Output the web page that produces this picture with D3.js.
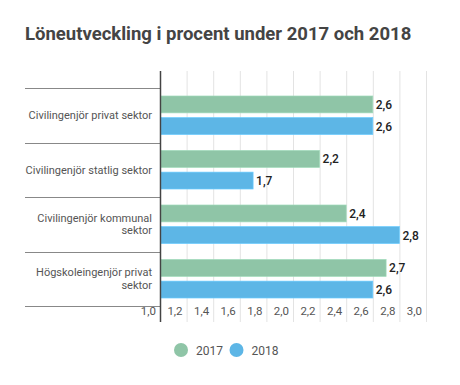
<!DOCTYPE html>
<html>
<head>
<meta charset="utf-8">
<script src="https://cdn.jsdelivr.net/npm/d3@7"></script>
<style>
  body { margin: 0; background: #fff; font-family: Roboto, "Noto Sans", sans-serif; }
</style>
</head>
<body>
<div id="chart"></div>
<script>
// chart data
var categories = [
    ["Civilingenjör privat sektor"],
    ["Civilingenjör statlig sektor"],
    ["Civilingenjör kommunal", "sektor"],
    ["Högskoleingenjör privat", "sektor"]
];
var seriesNames = ["2017", "2018"];
var values2017 = [2.6, 2.2, 2.4, 2.7];
var values2018 = [2.6, 1.7, 2.8, 2.6];
var tickValues = [1.0, 1.2, 1.4, 1.6, 1.8, 2.0, 2.2, 2.4, 2.6, 2.8, 3.0];
var colors = ["#8fc5a7", "#5db6e6"];

var width = 460, height = 385;
var plotTop = 71, plotBottom = 322;
var bandTop = 88, bandBottom = 306;

var svg = d3.select("#chart").append("svg")
    .attr("width", width)
    .attr("height", height);

//title
svg.append("text")
    .attr("x", 25)
    .attr("y", 40)
    .style("font-size", "18.5px")
    .style("font-weight", "bold")
    .style("fill", "#444")
    .text("Löneutveckling i procent under 2017 och 2018");

var x = d3.scaleLinear().domain([1.0, 3.0]).range([160, 426]);
var y = d3.scaleBand().domain(d3.range(categories.length)).range([bandTop, bandBottom]);
var inner = d3.scaleBand().domain([0, 1]).range([8, y.bandwidth() - 8]).paddingInner(0.22);

//gridlines
svg.append("g").selectAll("line")
    .data(tickValues.slice(1))
    .enter().append("line")
    .attr("x1", function(d) { return x(d) + 0.5; })
    .attr("x2", function(d) { return x(d) + 0.5; })
    .attr("y1", plotTop)
    .attr("y2", plotBottom)
    .style("stroke", "#e3e3e3")
    .style("stroke-width", 1);

//tick labels, right aligned to the left of each line
svg.append("g").selectAll("text")
    .data(tickValues)
    .enter().append("text")
    .attr("x", function(d) { return x(d) - 4; })
    .attr("y", 315)
    .style("text-anchor", "end")
    .style("font-size", "11.5px")
    .style("fill", "#555")
    .text(function(d) { return d3.format(".1f")(d).replace(".", ","); });

//category separators
svg.append("g").selectAll("line")
    .data(d3.range(categories.length + 1))
    .enter().append("line")
    .attr("x1", 25)
    .attr("x2", 160)
    .attr("y1", function(i) { return Math.round(bandTop + i * y.step()) + 0.5; })
    .attr("y2", function(i) { return Math.round(bandTop + i * y.step()) + 0.5; })
    .style("stroke", "#888")
    .style("stroke-width", 1);

//category labels
var labels = svg.append("g").selectAll("text")
    .data(categories)
    .enter().append("text")
    .attr("y", function(d, i) { return y(i) + y.bandwidth() / 2 - (d.length - 1) * 6.5 + 4; })
    .style("text-anchor", "end")
    .style("font-size", "11px")
    .style("fill", "#555");
labels.selectAll("tspan")
    .data(function(d) { return d; })
    .enter().append("tspan")
    .attr("x", 152)
    .attr("dy", function(d, j) { return j ? 12.5 : 0; })
    .text(function(d) { return d; });

//bars
var series = [values2017, values2018];
series.forEach(function(vals, s) {
    var g = svg.append("g");
    g.selectAll("rect")
        .data(vals)
        .enter().append("rect")
        .attr("x", x(1.0) + 1)
        .attr("y", function(d, i) { return y(i) + inner(s); })
        .attr("width", function(d) { return x(d) - x(1.0) - 1; })
        .attr("height", inner.bandwidth())
        .style("fill", colors[s])
        .style("stroke", d3.color(colors[s]).brighter(0.3))
        .style("stroke-width", 0.7);
    g.selectAll("text")
        .data(vals)
        .enter().append("text")
        .attr("x", function(d) { return x(d) + 3; })
        .attr("y", function(d, i) { return y(i) + inner(s) + inner.bandwidth() / 2 + 4.5; })
        .style("font-size", "12px")
        .style("font-weight", "500")
        .style("fill", "#222")
        .text(function(d) { return d3.format(".1f")(d).replace(".", ","); });
});

//axis line
svg.append("line")
    .attr("x1", 160.5).attr("x2", 160.5)
    .attr("y1", plotTop).attr("y2", plotBottom)
    .style("stroke", "#444")
    .style("stroke-width", 1.5);

//legend
var legend = svg.append("g").selectAll("g")
    .data(seriesNames)
    .enter().append("g")
    .attr("transform", function(d, i) { return "translate(" + (181 + i * 55.5) + ",350)"; });
legend.append("circle")
    .attr("r", 7)
    .style("fill", function(d, i) { return colors[i]; });
legend.append("text")
    .attr("x", 15)
    .attr("y", 4.5)
    .style("font-size", "12px")
    .style("fill", "#555")
    .text(function(d) { return d; });
</script>
</body>
</html>
